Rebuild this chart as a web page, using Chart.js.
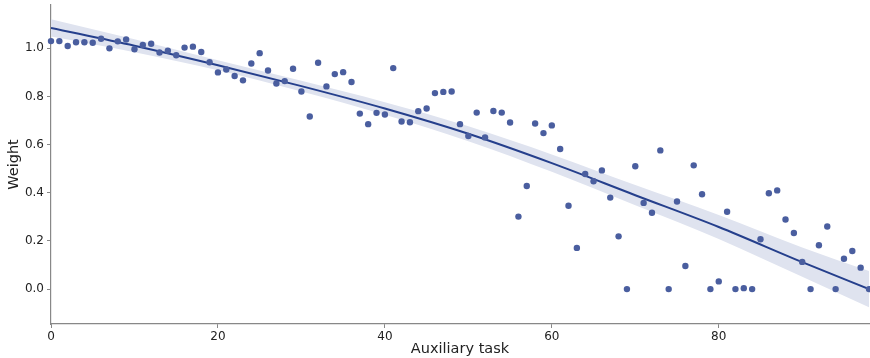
<!DOCTYPE html>
<html>
<head>
<meta charset="utf-8">
<script src="https://cdn.jsdelivr.net/npm/chart.js@4.4.1/dist/chart.umd.min.js"></script>
<style>
  body { margin: 0; background: #fff; }
  #wrap { width: 870px; height: 358px; }
</style>
</head>
<body>
<div id="wrap"><canvas id="chart"></canvas></div>
<script>
// weight per auxiliary task (task index = position)
const weights = [
  1.03, 1.03, 1.01, 1.025, 1.025, 1.023, 1.04, 1.0, 1.029, 1.037,
  0.996, 1.014, 1.019, 0.983, 0.99, 0.971, 1.003, 1.007, 0.985, 0.942,
  0.9, 0.912, 0.885, 0.867, 0.937, 0.98, 0.908, 0.854, 0.864, 0.915,
  0.821, 0.717, 0.94, 0.842, 0.893, 0.901, 0.86, 0.729, 0.685, 0.732,
  0.725, 0.918, 0.696, 0.693, 0.739, 0.75, 0.814, 0.819, 0.821, 0.685,
  0.636, 0.733, 0.63, 0.74, 0.733, 0.692, 0.301, 0.428, 0.688, 0.648,
  0.68, 0.582, 0.346, 0.171, 0.478, 0.448, 0.493, 0.38, 0.219, 0.0,
  0.51, 0.358, 0.317, 0.576, 0.0, 0.364, 0.096, 0.514, 0.394, 0.0,
  0.032, 0.321, 0.0, 0.004, 0.0, 0.207, 0.398, 0.41, 0.289, 0.233,
  0.113, 0.0, 0.182, 0.26, 0.0, 0.126, 0.158, 0.089, 0.0
];

// regression curve and its confidence band (half width)
const fitX = [0, 10, 20, 30, 40, 50, 60, 70, 80, 90, 98];
const fitY = [1.085, 1.011, 0.930, 0.843, 0.750, 0.645, 0.523, 0.390, 0.258, 0.112, 0.0];
const bandHalf = [0.036, 0.027, 0.021, 0.022, 0.026, 0.031, 0.036, 0.042, 0.050, 0.061, 0.075];

const xTicks = [0, 20, 40, 60, 80];
const yTicks = [0.0, 0.2, 0.4, 0.6, 0.8, 1.0];

Chart.defaults.font.family = "'DejaVu Sans', sans-serif";
Chart.defaults.color = "#222";

const ctx = document.getElementById("chart").getContext("2d");

new Chart(ctx, {
  type: "scatter",
  data: {
    datasets: [
      {
        label: "Weight",
        data: weights.map((w, i) => ({ x: i, y: w })),
        backgroundColor: "#4a5e9f",
        borderWidth: 0,
        pointRadius: 3.2,
        clip: false,
        order: 0
      },
      {
        label: "fit",
        type: "line",
        data: fitX.map((x, i) => ({ x: x, y: fitY[i] })),
        borderColor: "#253f8c",
        borderWidth: 2,
        pointRadius: 0,
        cubicInterpolationMode: "monotone",
        fill: false,
        order: 1
      },
      {
        label: "upper",
        type: "line",
        data: fitX.map((x, i) => ({ x: x, y: fitY[i] + bandHalf[i] })),
        borderWidth: 0,
        borderColor: "rgba(0,0,0,0)",
        backgroundColor: "#dfe3ef",
        pointRadius: 0,
        cubicInterpolationMode: "monotone",
        fill: "+1",
        order: 2
      },
      {
        label: "lower",
        type: "line",
        data: fitX.map((x, i) => ({ x: x, y: fitY[i] - bandHalf[i] })),
        borderWidth: 0,
        borderColor: "rgba(0,0,0,0)",
        pointRadius: 0,
        cubicInterpolationMode: "monotone",
        fill: false,
        order: 3
      }
    ]
  },
  options: {
    responsive: true,
    maintainAspectRatio: false,
    animation: false,
    layout: { autoPadding: false, padding: { top: 5, right: 1, left: 0, bottom: 0 } },
    plugins: {
      legend: { display: false },
      tooltip: { enabled: false }
    },
    scales: {
      x: {
        type: "linear",
        min: 0,
        max: 98,
        afterBuildTicks: (s) => { s.ticks = xTicks.map(v => ({ value: v })); },
        afterFit: (s) => { s.height = 34; s.paddingLeft = 0; s.paddingRight = 0; },
        ticks: { font: { size: 12 }, padding: 2, color: "#222", maxRotation: 0 },
        grid: { drawOnChartArea: false, drawTicks: true, tickLength: 4, color: "#888" },
        border: { display: true, color: "#888", width: 1.2 },
        title: { display: true, text: "Auxiliary task", font: { size: 14.5 }, padding: { top: -2, bottom: 0 }, color: "#222" }
      },
      y: {
        type: "linear",
        min: -0.145,
        max: 1.18,
        afterBuildTicks: (s) => { s.ticks = yTicks.map(v => ({ value: v })); },
        afterFit: (s) => { s.width = 51; s.paddingTop = 0; s.paddingBottom = 0; },
        ticks: { font: { size: 12 }, padding: 3, color: "#222", callback: (v) => v.toFixed(1) },
        grid: { drawOnChartArea: false, drawTicks: true, tickLength: 4, color: "#888" },
        border: { display: true, color: "#888", width: 1.2 },
        title: { display: true, text: "Weight", font: { size: 14.5 }, padding: { top: 6, bottom: 0 }, color: "#222" }
      }
    }
  }
});
</script>
</body>
</html>
